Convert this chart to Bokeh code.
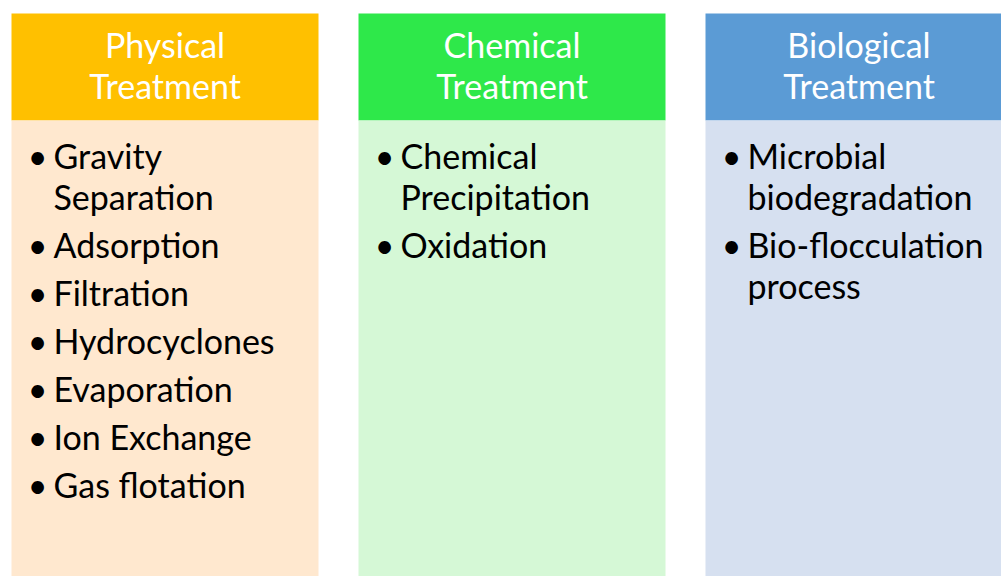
from bokeh.plotting import figure
from bokeh.models import Range1d
from bokeh.core.properties import value
from bokeh.embed import file_html
from bokeh.resources import INLINE

# ---- data ----
categories = ["Physical", "Chemical", "Biological"]
header_lines = [["Physical", "Treatment"], ["Chemical", "Treatment"], ["Biological", "Treatment"]]
items = [
    [["Gravity", "Separation"], ["Adsorption"], ["Filtration"], ["Hydrocyclones"],
     ["Evaporation"], ["Ion Exchange"], ["Gas flotation"]],
    [["Chemical", "Precipitation"], ["Oxidation"]],
    [["Microbial", "biodegradation"], ["Bio-flocculation", "process"]],
]
header_colors = ["#FFC000", "#2EE84A", "#5B9BD5"]
body_colors = ["#FFE8CF", "#D5F8D6", "#D6E0F0"]

# ---- layout (pixel space of the page) ----
W, H = 1001, 576
X0, Y0 = 0, 0
col_left0, col_step, col_w = 11, 347, 307
head_top, head_bot, body_bot = 13, 120, 576
head_line1, head_step = 44, 41
body_first, line_step, para_gap = 155, 41, 7
bullet_dx, text_dx = 26, 42
FONT = "Lato"
FS = "34px"

p = figure(width=W, height=H, output_backend="svg", toolbar_location=None,
           x_range=Range1d(X0, X0 + W), y_range=Range1d(Y0 + H, Y0),
           min_border=0, outline_line_color=None)
p.axis.visible = False
p.grid.visible = False
p.background_fill_color = "white"

lefts = [col_left0 + i * col_step for i in range(len(categories))]
rights = [l + col_w for l in lefts]

p.quad(left=lefts, right=rights, top=[head_top] * 3, bottom=[head_bot] * 3,
       fill_color=header_colors, line_color=None)
p.quad(left=lefts, right=rights, top=[head_bot] * 3, bottom=[body_bot] * 3,
       fill_color=body_colors, line_color=None)

# header texts
hx, hy, ht = [], [], []
for i, lines in enumerate(header_lines):
    for j, t in enumerate(lines):
        hx.append((lefts[i] + rights[i]) / 2)
        hy.append(head_line1 + j * head_step)
        ht.append(t)
p.text(x=hx, y=hy, text=ht, text_color="white", text_font=value(FONT),
       text_font_size=FS, text_align="center", text_baseline="middle")

# body texts
bx, by, bt, ux, uy = [], [], [], [], []
for i, col in enumerate(items):
    y = body_first
    for item in col:
        ux.append(lefts[i] + bullet_dx)
        uy.append(y)
        for t in item:
            bx.append(lefts[i] + text_dx)
            by.append(y)
            bt.append(t)
            y += line_step
        y += para_gap
p.text(x=ux, y=uy, text=["•"] * len(ux), text_color="black", text_font=value(FONT),
       text_font_size=FS, text_align="center", text_baseline="middle")
p.text(x=bx, y=by, text=bt, text_color="black", text_font=value(FONT),
       text_font_size=FS, text_align="left", text_baseline="middle")

open("out.html", "w").write(file_html(p, INLINE))
